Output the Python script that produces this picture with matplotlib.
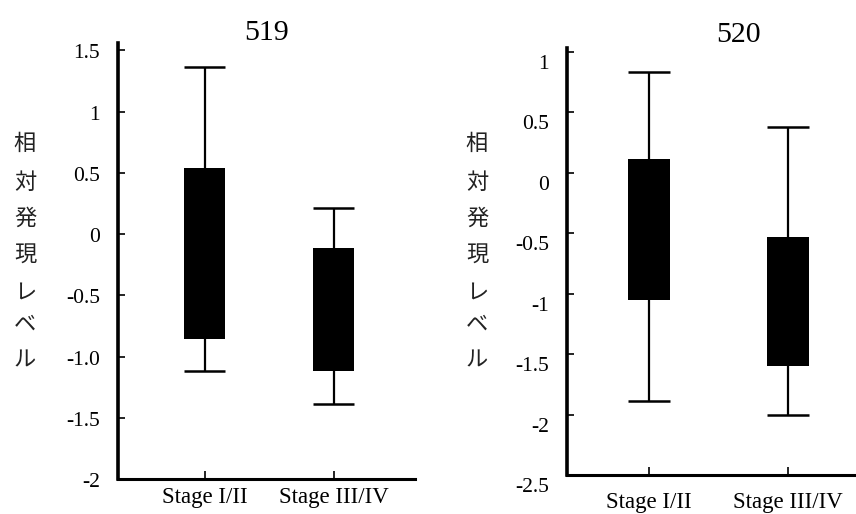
import matplotlib.pyplot as plt
import matplotlib.transforms as mtransforms

# --- data ---
groups = ["Stage I/II", "Stage III/IV"]
titles = ["519", "520"]
ylabel_chars = ["相", "対", "発", "現", "レ", "ベ", "ル"]

# gene 519
whislo_519 = [-1.12, -1.39]
q1_519 = [-0.86, -1.12]
q3_519 = [0.54, -0.115]
whishi_519 = [1.36, 0.21]
yticks_519 = [1.5, 1, 0.5, 0, -0.5, -1.0, -1.5, -2]
yticklabels_519 = ["1.5", "1", "0.5", "0", "-0.5", "-1.0", "-1.5", "-2"]

# gene 520
whislo_520 = [-1.89, -2.0]
q1_520 = [-1.05, -1.6]
q3_520 = [0.115, -0.53]
whishi_520 = [0.83, 0.38]
yticks_520 = [1, 0.5, 0, -0.5, -1, -1.5, -2, -2.5]
yticklabels_520 = ["1", "0.5", "0", "-0.5", "-1", "-1.5", "-2", "-2.5"]

SERIF = ["Liberation Serif", "DejaVu Serif"]
JP = ["Noto Sans CJK JP", "DejaVu Sans"]

W, H = 856, 514
fig = plt.figure(figsize=(W / 100, H / 100), dpi=100)


def px_axes(left, top, right, bottom):
    return fig.add_axes([left / W, 1 - bottom / H, (right - left) / W, (bottom - top) / H])


def draw_panel(ax, whislo, q1, q3, whishi, width, yticks, yticklabels, ylim, xlim,
               label_dy, xpad):
    pos = [1, 2]
    ax.bar(pos, [b - a for a, b in zip(q1, q3)], bottom=q1, width=width,
           color="black", edgecolor="black", linewidth=0)
    ax.vlines(pos, whislo, q1, color="black", linewidth=1.6)
    ax.vlines(pos, q3, whishi, color="black", linewidth=1.6)
    ax.hlines(whislo + whishi, [p - width / 2 for p in pos] * 2,
              [p + width / 2 for p in pos] * 2, color="black", linewidth=1.8)
    ax.set_ylim(*ylim)
    ax.set_xlim(*xlim)
    for s in ["top", "right"]:
        ax.spines[s].set_visible(False)
    ax.spines["left"].set_linewidth(2.6)
    ax.spines["bottom"].set_linewidth(2.2)
    ax.set_yticks(yticks)
    ax.set_yticklabels(yticklabels, fontfamily=SERIF, fontsize=15.5)
    ax.set_xticks(pos)
    ax.set_xticklabels(groups, fontfamily=SERIF, fontsize=16.5)
    ax.tick_params(axis="y", direction="in", length=5, width=1.2, pad=13)
    ax.tick_params(axis="x", direction="in", length=6, width=1.2, pad=xpad)
    off = mtransforms.ScaledTranslation(0, -label_dy / 100, fig.dpi_scale_trans)
    for lab in ax.get_yticklabels():
        lab.set_transform(lab.get_transform() + off)


ax1 = px_axes(118, 43, 415, 479)
draw_panel(ax1, whislo_519, q1_519, q3_519, whishi_519, 0.32,
           yticks_519, yticklabels_519, (-2, 1.56), (0.33, 2.63), 1, 6)

ax2 = px_axes(567, 48, 856, 475)
draw_panel(ax2, whislo_520, q1_520, q3_520, whishi_520, 0.30,
           yticks_520, yticklabels_520, (-2.5, 1.03), (0.41, 2.49), 10, 12)

fig.text(267 / W, 1 - 40 / H, titles[0], ha="center", va="baseline",
         fontfamily=SERIF, fontsize=21.5)
fig.text(738 / W, 1 - 42 / H, titles[1], ha="center", va="baseline",
         fontfamily=SERIF, fontsize=21.5)

char_y = [143, 182, 218, 255, 292, 324, 360]
for x0 in (25, 477):
    for ch, yy in zip(ylabel_chars, char_y):
        fig.text(x0 / W, 1 - yy / H, ch, ha="center", va="center",
                 fontfamily=JP, fontsize=16, color="#222222")

fig.savefig("out.png", dpi=100)
